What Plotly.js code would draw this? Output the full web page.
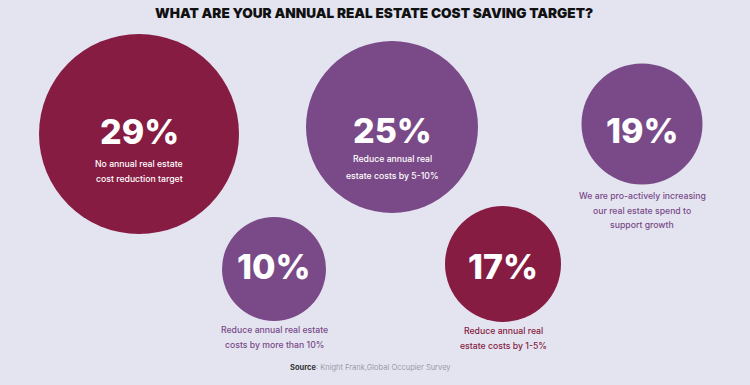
<!DOCTYPE html>
<html><head><meta charset="utf-8">
<script src="https://cdn.plot.ly/plotly-3.0.1.min.js"></script>
<style>html,body{margin:0;padding:0;background:#e4e4f1;}#chart{width:750px;height:385px;}</style>
</head><body><div id="chart"></div>
<script>
// Data
var categories = [
  "No annual real estate|cost reduction target",
  "Reduce annual real|estate costs by 5-10%",
  "We are pro-actively increasing|our real estate spend to|support growth",
  "Reduce annual real estate|costs by more than 10%",
  "Reduce annual real|estate costs by 1-5%"
];
var values = [29, 25, 19, 10, 17];
var titleText = "WHAT ARE YOUR ANNUAL REAL ESTATE COST SAVING TARGET?";
var sourceText = "<b>Source</b><span style='color:#9a9aa6'>: Knight Frank,Global Occupier Survey</span>";

// Layout / style (positions in pixel space)
var CRIMSON = "#861c42", PURPLE = "#7a4a88", BG = "#e4e4f1";
var cx = [139, 392, 642, 274, 503];
var cy = [134, 127, 124, 269, 264];
var diam = [200, 172, 121, 104, 116];
var colors = [CRIMSON, PURPLE, PURPLE, PURPLE, CRIMSON];
var pctY = [131, 130, 130, 266, 266];
var labelInside = [true, true, false, false, false];
var labelY0 = [164, 159, 196, 330, 331];
var lineGap = [15, 17, 14.5, 15, 15];

var trace = {
  type: "scatter", mode: "markers",
  x: cx, y: cy,
  marker: {size: diam, color: colors, line: {width: 0}, opacity: 1},
  hoverinfo: "skip", showlegend: false
};

var annotations = [];
values.forEach(function(v, i){
  annotations.push({
    x: cx[i], y: pctY[i], xref: "x", yref: "y", showarrow: false,
    text: v + "%", xanchor: "center", yanchor: "middle",
    font: {family: "Inter, sans-serif", size: 34, color: "#ffffff", weight: 800}
  });
  categories[i].split("|").forEach(function(line, j){
    annotations.push({
      x: cx[i], y: labelY0[i] + j*lineGap[i], xref: "x", yref: "y", showarrow: false,
      text: line, xanchor: "center", yanchor: "middle",
      font: {family: "Inter, sans-serif", size: 8.7, color: labelInside[i] ? "#ffffff" : colors[i], weight: 500}
    });
  });
});
annotations.push({
  x: 374, y: 13, xref: "x", yref: "y", showarrow: false, text: titleText,
  xanchor: "center", yanchor: "middle",
  font: {family: "Inter, sans-serif", size: 13.6, color: "#111111", weight: 900}
});
annotations.push({
  x: 370, y: 367, xref: "x", yref: "y", showarrow: false, text: sourceText,
  xanchor: "center", yanchor: "middle",
  font: {family: "Inter, sans-serif", size: 7.5, color: "#333333"}
});

var layout = {
  width: 750, height: 385,
  margin: {l: 0, r: 0, t: 0, b: 0},
  paper_bgcolor: BG, plot_bgcolor: BG,
  xaxis: {range: [0, 750], visible: false, fixedrange: true},
  yaxis: {range: [385, 0], visible: false, fixedrange: true},
  annotations: annotations,
  showlegend: false
};
Plotly.newPlot("chart", [trace], layout, {displayModeBar: false, staticPlot: true});
</script></body></html>
